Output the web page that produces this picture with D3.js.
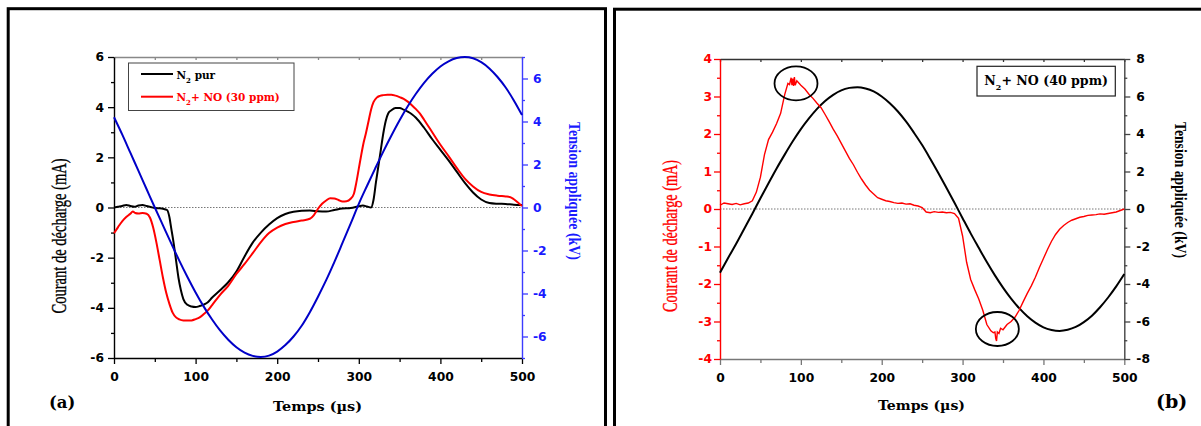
<!DOCTYPE html>
<html><head><meta charset="utf-8">
<script src="https://cdn.jsdelivr.net/npm/d3@7"></script>
<style>body{margin:0;background:#fff}svg{display:block}</style>
</head><body>
<svg id="c" width="1201" height="426"></svg>
<script>
// ---------- DATA ----------
const timeTicks = [0,100,200,300,400,500];
const timeMinor = [50,150,250,350,450];
const timeGrid = [0,10,20,30,40,50,60,70,80,90,100,110,120,130,140,150,160,170,180,190,200,210,220,230,240,250,260,270,280,290,300,310,320,330,340,350,360,370,380,390,400,410,420,430,440,450,460,470,480,490,500];

// Panel (a)
const aCurrentTicks = [-6,-4,-2,0,2,4,6];
const aCurrentMinor = [-5,-3,-1,1,3,5];
const aVoltTicks = [-6,-4,-2,0,2,4,6];
const aVoltMinor = [-7,-5,-3,-1,1,3,5,7];
const aSeriesNames = ["N", "2", " pur", "N", "2", "+ NO (30 ppm)"];

const aPurT = [0,5,10,15,20,25,30,35,40,45,50,55,60,65,68,70,73,76,79,82,85,90,95,100,105,110,115,120,130,140,150,160,170,180,190,200,210,220,230,240,250,260,270,280,290,300,305,310,315,318,321,324,327,330,333,336,340,345,350,355,360,365,370,380,390,400,410,420,430,440,450,460,470,480,490,500];
const aPurI = [0,0.03,0.06,0.1,0.06,0.03,0.08,0.1,0.06,0.02,-0.02,-0.03,-0.05,-0.1,-0.4,-0.8,-1.4,-2.1,-2.8,-3.3,-3.65,-3.88,-3.95,-3.97,-3.93,-3.87,-3.78,-3.6,-3.3,-2.98,-2.55,-1.95,-1.4,-1.0,-0.68,-0.42,-0.26,-0.17,-0.13,-0.12,-0.15,-0.16,-0.1,-0.04,-0.02,0.05,0.08,0.04,0.0,0.3,1.0,1.65,2.3,2.95,3.45,3.75,3.88,3.97,3.97,3.9,3.82,3.72,3.58,3.18,2.72,2.3,1.88,1.43,0.98,0.6,0.32,0.18,0.15,0.14,0.11,0.1];

const aNoT = [0,5,10,15,20,23,26,30,35,40,44,48,52,56,60,64,68,72,76,80,85,90,95,100,105,110,115,120,130,140,150,160,170,180,190,200,210,220,230,240,245,250,255,260,265,270,275,280,285,290,294,297,300,303,306,309,312,315,318,322,326,330,335,340,345,350,355,360,365,370,375,380,390,400,410,420,430,440,450,460,470,480,485,490,495,500];
const aNoI = [-1.03,-0.78,-0.55,-0.38,-0.25,-0.16,-0.22,-0.24,-0.22,-0.25,-0.4,-0.8,-1.4,-2.1,-2.8,-3.4,-3.85,-4.2,-4.38,-4.46,-4.5,-4.5,-4.5,-4.45,-4.38,-4.25,-4.1,-3.9,-3.48,-3.12,-2.65,-2.25,-1.82,-1.38,-1.02,-0.8,-0.66,-0.58,-0.52,-0.45,-0.3,-0.05,0.15,0.28,0.37,0.36,0.3,0.24,0.25,0.35,0.55,1.0,1.55,2.1,2.6,3.0,3.45,3.9,4.2,4.38,4.45,4.48,4.5,4.5,4.46,4.4,4.33,4.22,4.08,3.92,3.74,3.5,3.0,2.5,2.05,1.58,1.15,0.84,0.62,0.52,0.47,0.44,0.42,0.33,0.2,0.06];

const aVolt = [4.2,3.4,2.55,1.7,0.85,0.0,-0.83,-1.66,-2.47,-3.23,-3.95,-4.61,-5.2,-5.72,-6.15,-6.5,-6.75,-6.9,-6.95,-6.89,-6.7,-6.4,-6.0,-5.5,-4.87,-4.15,-3.38,-2.54,-1.65,-0.75,0.17,1.0,1.81,2.6,3.35,4.06,4.71,5.29,5.8,6.22,6.56,6.8,6.95,7.0,6.94,6.76,6.47,6.07,5.58,4.98,4.3];

// Panel (b)
const bCurrentTicks = [-4,-3,-2,-1,0,1,2,3,4];
const bCurrentMinor = [-3.5,-2.5,-1.5,-0.5,0.5,1.5,2.5,3.5];
const bVoltTicks = [-8,-6,-4,-2,0,2,4,6,8];
const bVoltMinor = [-7,-5,-3,-1,1,3,5,7];
const bSeriesName = ["N", "2", "+ NO (40 ppm)"];

const bNoT = [0,5,10,15,20,25,30,35,40,45,50,55,60,65,70,75,80,84,86,88,89,90,91,92,93,95,100,105,110,115,120,125,130,135,140,145,150,155,160,165,170,175,180,185,190,195,200,205,210,215,220,225,230,235,240,245,250,255,260,265,270,275,280,285,290,295,300,305,310,315,320,325,330,335,338,340,341,342,343,345,347,350,355,360,365,370,375,380,385,390,395,400,405,410,415,420,425,430,435,440,445,450,455,460,465,470,475,480,485,490,495,500];
const bNoI = [0.10,0.16,0.14,0.12,0.15,0.11,0.14,0.16,0.22,0.45,0.85,1.45,1.85,2.05,2.28,2.55,3.05,3.35,3.32,3.50,3.30,3.48,3.28,3.52,3.30,3.42,3.30,3.20,3.06,2.95,2.82,2.70,2.52,2.33,2.13,1.95,1.75,1.55,1.35,1.18,0.98,0.80,0.64,0.50,0.40,0.30,0.26,0.22,0.20,0.17,0.15,0.16,0.13,0.14,0.10,0.08,0.04,-0.08,-0.10,-0.07,-0.09,-0.08,-0.10,-0.09,-0.12,-0.25,-0.72,-1.42,-1.88,-2.15,-2.40,-2.70,-3.08,-3.25,-3.30,-3.28,-3.45,-3.52,-3.28,-3.32,-3.18,-3.22,-3.08,-3.00,-2.88,-2.70,-2.47,-2.25,-2.05,-1.82,-1.56,-1.32,-1.08,-0.86,-0.68,-0.54,-0.44,-0.36,-0.30,-0.26,-0.22,-0.20,-0.17,-0.16,-0.15,-0.13,-0.14,-0.12,-0.10,-0.08,-0.04,0.0];

const bVolt = [-3.4,-2.61,-1.85,-1.05,-0.25,0.57,1.37,2.16,2.9,3.61,4.26,4.83,5.34,5.76,6.09,6.33,6.46,6.5,6.43,6.27,6.0,5.64,5.2,4.67,4.06,3.41,2.68,1.92,1.13,0.33,-0.49,-1.3,-2.07,-2.83,-3.54,-4.19,-4.78,-5.29,-5.72,-6.06,-6.31,-6.45,-6.5,-6.44,-6.29,-6.03,-5.69,-5.24,-4.72,-4.13,-3.47];

// circled spikes (data coords)
const bMarks = [[94, 3.35], [343, -3.2]];

// ---------- DRAWING ----------
const svg = d3.select("#c");
svg.append("rect").attr("width",1201).attr("height",426).attr("fill","#fff");

const TICKFONT = "'DejaVu Sans', sans-serif";
const SERIF = "'DejaVu Serif', serif";
const TSERIF = "'Liberation Serif', 'Times New Roman', serif";

function drawAxis(gen, transform, lineColor, textColor, withDomain) {
  const g = svg.append("g").attr("transform", transform).call(gen);
  if (withDomain) g.select(".domain").attr("stroke", lineColor).attr("stroke-width", 1.4);
  else g.select(".domain").remove();
  g.selectAll(".tick line").attr("stroke", lineColor).attr("stroke-width", 1.3);
  g.selectAll(".tick text").attr("fill", textColor).attr("font-family", TICKFONT)
    .attr("font-weight", "bold").attr("font-size", 12.3);
  return g;
}
const fmt = d => String(d);

// frames
svg.append("rect").attr("x",8.2).attr("y",8.7).attr("width",597.3).attr("height",440)
  .attr("fill","none").attr("stroke","#000").attr("stroke-width",3);
svg.append("rect").attr("x",614.5).attr("y",9.2).attr("width",600).attr("height",440)
  .attr("fill","none").attr("stroke","#000").attr("stroke-width",3);

// ===== Panel (a) =====
{
  const x = d3.scaleLinear([0,500],[114,522]);
  const yI = d3.scaleLinear([-6,6],[358,57]);
  const yV = d3.scaleLinear([-7,7],[358,57]);

  svg.append("line").attr("x1",x(0)).attr("x2",x(500)).attr("y1",yI(0)).attr("y2",yI(0))
    .attr("stroke","#777").attr("stroke-width",1).attr("stroke-dasharray","1.5,1.5");

  drawAxis(d3.axisTop(x).tickValues(timeTicks.concat(timeMinor)).tickSize(-3).tickSizeOuter(0).tickFormat(""),
    `translate(0,${yI(6)})`, "#888", "#888", true);
  drawAxis(d3.axisBottom(x).tickValues(timeMinor).tickSize(4).tickFormat(""), `translate(0,${yI(-6)})`, "#000", "#000", false);
  drawAxis(d3.axisBottom(x).tickValues(timeTicks).tickSize(6).tickSizeOuter(0).tickPadding(8).tickFormat(fmt),
    `translate(0,${yI(-6)})`, "#000", "#000", true);
  drawAxis(d3.axisLeft(yI).tickValues(aCurrentMinor).tickSize(3).tickFormat(""), `translate(${x(0)},0)`, "#000", "#000", false);
  drawAxis(d3.axisLeft(yI).tickValues(aCurrentTicks).tickSize(6).tickSizeOuter(0).tickPadding(4).tickFormat(fmt),
    `translate(${x(0)},0)`, "#000", "#000", true);
  drawAxis(d3.axisRight(yV).tickValues(aVoltMinor).tickSize(3).tickFormat(""), `translate(${x(500)},0)`, "#3c3cff", "#1a1aff", false);
  drawAxis(d3.axisRight(yV).tickValues(aVoltTicks).tickSize(6).tickSizeOuter(0).tickPadding(5).tickFormat(fmt),
    `translate(${x(500)},0)`, "#3c3cff", "#1a1aff", true);

  const lineI = (T) => d3.line().x((d,i)=>x(T[i])).y(d=>yI(d)).curve(d3.curveMonotoneX);
  const lineV = d3.line().x((d,i)=>x(timeGrid[i])).y(d=>yV(d)).curve(d3.curveMonotoneX);

  svg.append("path").datum(aPurI).attr("d", lineI(aPurT)).attr("fill","none").attr("stroke","#000").attr("stroke-width",2);
  svg.append("path").datum(aNoI).attr("d", lineI(aNoT)).attr("fill","none").attr("stroke","#ff0000").attr("stroke-width",2);
  svg.append("path").datum(aVolt).attr("d", lineV).attr("fill","none").attr("stroke","#0000c8").attr("stroke-width",2);

  svg.append("rect").attr("x",128.5).attr("y",63).attr("width",165.5).attr("height",47.5)
    .attr("fill","#fff").attr("stroke","#444").attr("stroke-width",1);
  svg.append("line").attr("x1",141).attr("x2",173).attr("y1",74).attr("y2",74).attr("stroke","#000").attr("stroke-width",2);
  svg.append("line").attr("x1",141).attr("x2",173).attr("y1",96.7).attr("y2",96.7).attr("stroke","#ff0000").attr("stroke-width",2);
  const t1 = svg.append("text").attr("x",176.5).attr("y",78.5).attr("font-family",SERIF).attr("font-weight","bold").attr("font-size",10.5).attr("fill","#000");
  t1.append("tspan").text(aSeriesNames[0]);
  t1.append("tspan").attr("dy",4).attr("font-size",7).text(aSeriesNames[1]);
  t1.append("tspan").attr("dy",-4).text(aSeriesNames[2]);
  const t2 = svg.append("text").attr("x",176.5).attr("y",101).attr("font-family",SERIF).attr("font-weight","bold").attr("font-size",10.5).attr("fill","#ff0000");
  t2.append("tspan").text(aSeriesNames[3]);
  t2.append("tspan").attr("dy",4).attr("font-size",7).text(aSeriesNames[4]);
  t2.append("tspan").attr("dy",-4).text(aSeriesNames[5]);

  svg.append("text").attr("transform","translate(66,236) rotate(-90)").attr("text-anchor","middle")
    .attr("font-family",TSERIF).attr("font-size",20).attr("textLength",155).attr("lengthAdjust","spacingAndGlyphs")
    .attr("fill","#000").attr("stroke","#000").attr("stroke-width",0.35).text("Courant de décharge (mA)");
  svg.append("text").attr("transform","translate(569,191) rotate(90)").attr("text-anchor","middle")
    .attr("font-family",TSERIF).attr("font-weight","bold").attr("font-size",16.5).attr("textLength",138).attr("lengthAdjust","spacingAndGlyphs")
    .attr("fill","#1a1aff").text("Tension appliquée (kV)");
  svg.append("text").attr("x",317.5).attr("y",411).attr("text-anchor","middle")
    .attr("font-family",SERIF).attr("font-weight","bold").attr("font-size",13.5).attr("textLength",89).attr("lengthAdjust","spacingAndGlyphs")
    .attr("fill","#000").text("Temps (µs)");
  svg.append("text").attr("x",49).attr("y",408).attr("font-family",SERIF).attr("font-weight","bold").attr("font-size",16.5)
    .attr("fill","#000").text("(a)");
}

// ===== Panel (b) =====
{
  const x = d3.scaleLinear([0,500],[720,1124.3]);
  const yI = d3.scaleLinear([-4,4],[359,59]);
  const yV = d3.scaleLinear([-8,8],[359,59]);

  svg.append("line").attr("x1",x(0)).attr("x2",x(500)).attr("y1",yI(0)).attr("y2",yI(0))
    .attr("stroke","#777").attr("stroke-width",1).attr("stroke-dasharray","1.5,1.5");

  drawAxis(d3.axisTop(x).tickValues(timeTicks.concat(timeMinor)).tickSize(-3).tickSizeOuter(0).tickFormat(""),
    `translate(0,${yI(4)})`, "#333", "#333", true);
  drawAxis(d3.axisBottom(x).tickValues(timeMinor).tickSize(4).tickFormat(""), `translate(0,${yI(-4)})`, "#777", "#000", false);
  drawAxis(d3.axisBottom(x).tickValues(timeTicks).tickSize(6).tickSizeOuter(0).tickPadding(8).tickFormat(fmt),
    `translate(0,${yI(-4)})`, "#777", "#000", true);
  drawAxis(d3.axisLeft(yI).tickValues(bCurrentMinor).tickSize(3).tickFormat(""), `translate(${x(0)},0)`, "#ff0000", "#ff0000", false);
  drawAxis(d3.axisLeft(yI).tickValues(bCurrentTicks).tickSize(6).tickSizeOuter(0).tickPadding(2).tickFormat(fmt),
    `translate(${x(0)},0)`, "#ff0000", "#ff0000", true);
  drawAxis(d3.axisRight(yV).tickValues(bVoltMinor).tickSize(3).tickFormat(""), `translate(${x(500)},0)`, "#444", "#000", false);
  drawAxis(d3.axisRight(yV).tickValues(bVoltTicks).tickSize(6).tickSizeOuter(0).tickPadding(6).tickFormat(fmt),
    `translate(${x(500)},0)`, "#444", "#000", true);

  const lineV = d3.line().x((d,i)=>x(timeGrid[i])).y(d=>yV(d)).curve(d3.curveMonotoneX);
  const lineI = d3.line().x((d,i)=>x(bNoT[i])).y(d=>yI(d));
  svg.append("path").datum(bVolt).attr("d", lineV).attr("fill","none").attr("stroke","#000").attr("stroke-width",2);
  svg.append("path").datum(bNoI).attr("d", lineI).attr("fill","none").attr("stroke","#ff0000").attr("stroke-width",1.4);

  svg.selectAll("ellipse.mk").data(bMarks).enter().append("ellipse")
    .attr("cx",d=>x(d[0])).attr("cy",d=>yI(d[1])).attr("rx",21.5).attr("ry",17)
    .attr("fill","none").attr("stroke","#000").attr("stroke-width",1.8);

  svg.append("rect").attr("x",977).attr("y",66.3).attr("width",138.3).attr("height",29.7)
    .attr("fill","#fff").attr("stroke","#222").attr("stroke-width",1.2);
  const t = svg.append("text").attr("x",984.3).attr("y",85).attr("font-family",SERIF).attr("font-weight","bold").attr("font-size",12.6).attr("fill","#000");
  t.append("tspan").text(bSeriesName[0]);
  t.append("tspan").attr("dy",4.5).attr("font-size",8).text(bSeriesName[1]);
  t.append("tspan").attr("dy",-4.5).text(bSeriesName[2]);

  svg.append("text").attr("transform","translate(677,236) rotate(-90)").attr("text-anchor","middle")
    .attr("font-family",TSERIF).attr("font-size",20).attr("textLength",152).attr("lengthAdjust","spacingAndGlyphs")
    .attr("fill","#ff0000").attr("stroke","#ff0000").attr("stroke-width",0.35).text("Courant de décharge (mA)");
  svg.append("text").attr("transform","translate(1175,190) rotate(90)").attr("text-anchor","middle")
    .attr("font-family",TSERIF).attr("font-weight","bold").attr("font-size",16.5).attr("textLength",136).attr("lengthAdjust","spacingAndGlyphs")
    .attr("fill","#000").text("Tension appliquée (kV)");
  svg.append("text").attr("x",921.5).attr("y",410).attr("text-anchor","middle")
    .attr("font-family",SERIF).attr("font-weight","bold").attr("font-size",13.5).attr("textLength",87).attr("lengthAdjust","spacingAndGlyphs")
    .attr("fill","#000").text("Temps (µs)");
  svg.append("text").attr("x",1156).attr("y",408).attr("font-family",SERIF).attr("font-weight","bold").attr("font-size",19)
    .attr("fill","#000").text("(b)");
}
</script>
</body></html>
